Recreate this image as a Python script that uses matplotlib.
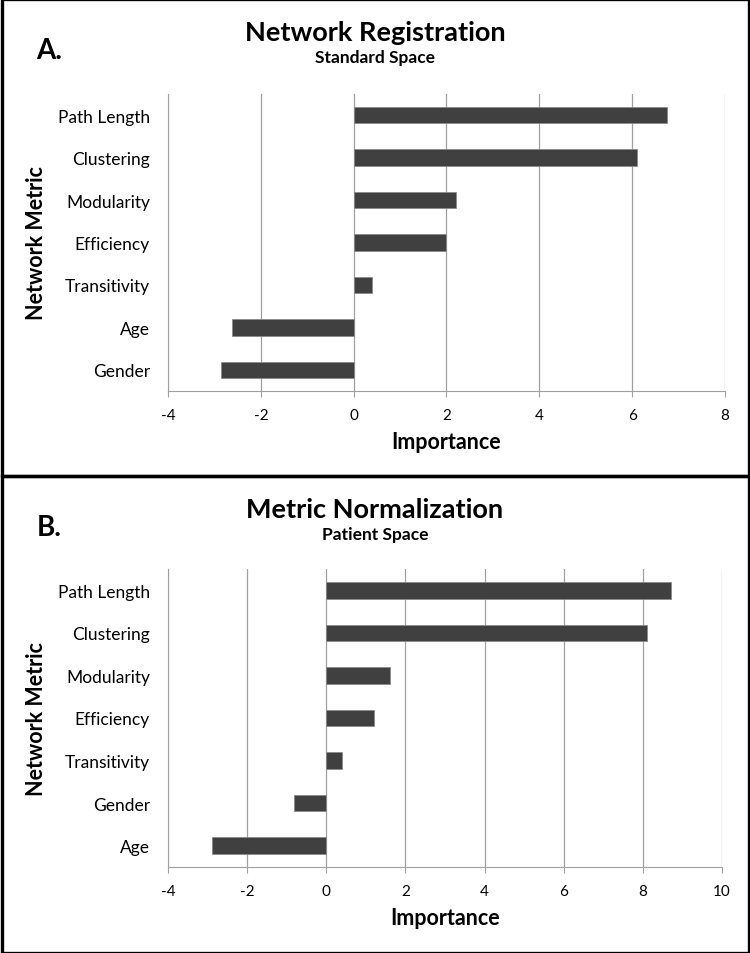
import matplotlib
matplotlib.use("Agg")
from matplotlib import pyplot as plt
from matplotlib.patches import Rectangle

plt.rcParams['font.family'] = ['Lato', 'DejaVu Sans']

# panel A data (top to bottom)
metrics_a = ["Path Length", "Clustering", "Modularity", "Efficiency", "Transitivity", "Age", "Gender"]
importance_a = [6.75, 6.1, 2.2, 2.0, 0.4, -2.62, -2.85]

# panel B data (top to bottom)
metrics_b = ["Path Length", "Clustering", "Modularity", "Efficiency", "Transitivity", "Gender", "Age"]
importance_b = [8.72, 8.1, 1.62, 1.2, 0.4, -0.82, -2.9]

ticks_a = [-4, -2, 0, 2, 4, 6, 8]
ticks_b = [-4, -2, 0, 2, 4, 6, 8, 10]

W, H = 750, 954
fig = plt.figure(figsize=(7.5, 9.54), dpi=100)


def panel(top, bottom, letter, title, subtitle, metrics, values, ticks, ax_box):
    # border box
    fig.patches.append(Rectangle((1.5 / W, 1 - bottom / H), (W - 3) / W, (bottom - top) / H,
                                 transform=fig.transFigure, fill=False, ec="black", lw=2.4))
    fig.text(49 / W, 1 - (top + 51) / H, letter, fontsize=20, fontweight="bold", ha="center", va="center")
    fig.text(375 / W, 1 - (top + 33) / H, title, fontsize=19.5, fontweight="bold", ha="center", va="center")
    fig.text(375 / W, 1 - (top + 58) / H, subtitle, fontsize=12.5, fontweight="bold", ha="center", va="center")

    l, t, r, b = ax_box
    ax = fig.add_axes([l / W, 1 - b / H, (r - l) / W, (b - t) / H])
    y = list(range(len(metrics)))[::-1]
    ax.barh(y, values, height=0.39, color="#404040", edgecolor="#8a8a8a", linewidth=0.6, zorder=3)
    ax.set_xlim(ticks[0], ticks[-1])
    ax.set_ylim(-0.5, len(metrics) - 0.5)
    ax.set_xticks(ticks)
    ax.set_xticklabels([str(v) for v in ticks], fontsize=11)
    ax.set_yticks(y)
    ax.set_yticklabels(metrics, fontsize=12.5)
    ax.tick_params(axis="y", length=0, pad=13)
    ax.tick_params(axis="x", length=4, color="#a0a0a0", pad=8)
    ax.grid(axis="x", color="#a0a0a0", lw=0.9, zorder=0)
    for s in ["top", "right"]:
        ax.spines[s].set_visible(False)
    ax.spines["bottom"].set_color("#a0a0a0")
    ax.spines["left"].set_color("#a0a0a0")
    ax.set_xlabel("Importance", fontsize=15.5, fontweight="bold", labelpad=7)
    ax.set_ylabel("Network Metric", fontsize=15.5, fontweight="bold", labelpad=8)
    return ax


panel(0, 477, "A.", "Network Registration", "Standard Space",
      metrics_a, importance_a, ticks_a, (168, 95, 725, 392))
panel(477, 954, "B.", "Metric Normalization", "Patient Space",
      metrics_b, importance_b, ticks_b, (168, 570, 722, 868))

fig.savefig("out.png", dpi=100)
